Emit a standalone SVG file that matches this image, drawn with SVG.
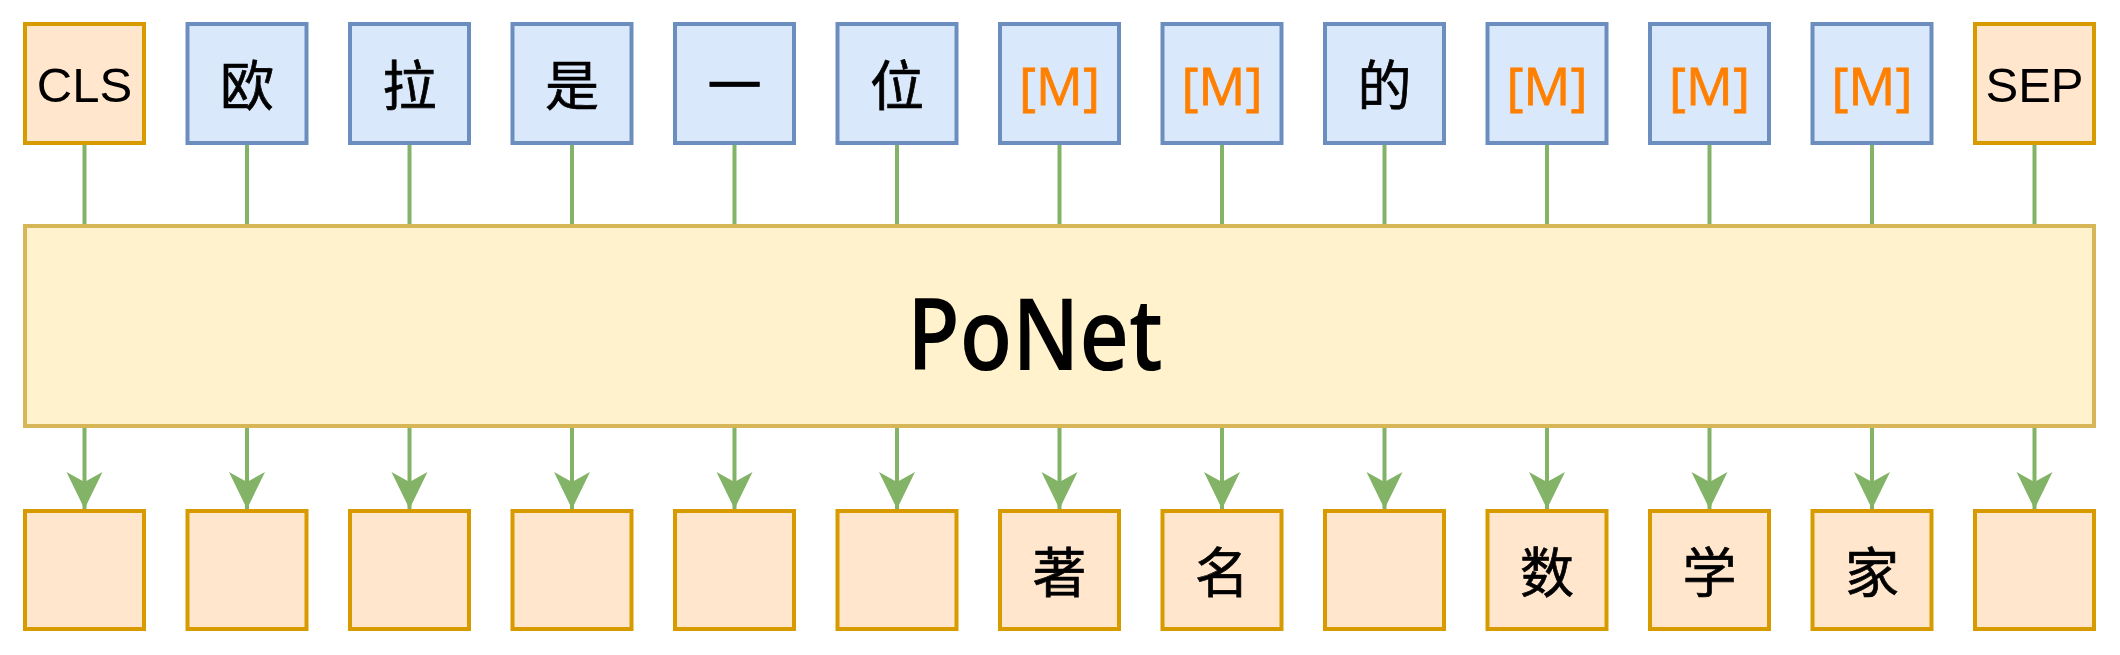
<svg xmlns="http://www.w3.org/2000/svg" width="2120" height="655" viewBox="0 0 2120 655">
<defs>
<style>
.o{fill:#ffe6cc;stroke:#d79b00;stroke-width:4}
.b{fill:#dae8fc;stroke:#6c8ebf;stroke-width:4}
.y{fill:#fff2cc;stroke:#d6b656;stroke-width:4}
.c{stroke:#82b366;stroke-width:4;fill:none}
.lat{font-family:"Liberation Sans",Arial,sans-serif;font-size:49px;fill:#000;text-anchor:middle}
.m{font-family:"Open Sans","Noto Sans",sans-serif;font-size:52px;fill:#ff8000;stroke:#ff8000;stroke-width:0.8;text-anchor:middle}
.zh{font-family:"Noto Sans CJK SC","Noto Sans",sans-serif;font-size:54px;font-weight:400;fill:#000;stroke:#000;stroke-width:0.7;text-anchor:middle}
.big{font-family:"Open Sans","Noto Sans",sans-serif;font-size:100px;font-weight:600;fill:#000;text-anchor:middle}
</style>
<marker id="ar" markerUnits="userSpaceOnUse" markerWidth="40" markerHeight="40" viewBox="-40 -20 40 40" refX="0" refY="0" orient="auto">
<path d="M0,0 L-37,-18 L-27,0 L-37,18 Z" fill="#82b366"/>
</marker>
</defs>
<rect width="2120" height="655" fill="#fff"/>
<g id="connectors">
<path class="c" d="M84.5,145V224M247,145V224M409.5,145V224M572,145V224M734.5,145V224M897,145V224M1059.5,145V224M1222,145V224M1384.5,145V224M1547,145V224M1709.5,145V224M1872,145V224M2034.5,145V224"/>
<path class="c" marker-end="url(#ar)" d="M84.5,428V509"/>
<path class="c" marker-end="url(#ar)" d="M247,428V509"/>
<path class="c" marker-end="url(#ar)" d="M409.5,428V509"/>
<path class="c" marker-end="url(#ar)" d="M572,428V509"/>
<path class="c" marker-end="url(#ar)" d="M734.5,428V509"/>
<path class="c" marker-end="url(#ar)" d="M897,428V509"/>
<path class="c" marker-end="url(#ar)" d="M1059.5,428V509"/>
<path class="c" marker-end="url(#ar)" d="M1222,428V509"/>
<path class="c" marker-end="url(#ar)" d="M1384.5,428V509"/>
<path class="c" marker-end="url(#ar)" d="M1547,428V509"/>
<path class="c" marker-end="url(#ar)" d="M1709.5,428V509"/>
<path class="c" marker-end="url(#ar)" d="M1872,428V509"/>
<path class="c" marker-end="url(#ar)" d="M2034.5,428V509"/>
</g>
<g id="in0"><rect class="o" x="25" y="24" width="119" height="119"/><text class="lat" x="84.5" y="102">CLS</text></g>
<g id="in1"><rect class="b" x="187.5" y="24" width="119" height="119"/><text class="zh" x="247" y="106">欧</text></g>
<g id="in2"><rect class="b" x="350" y="24" width="119" height="119"/><text class="zh" x="409.5" y="106">拉</text></g>
<g id="in3"><rect class="b" x="512.5" y="24" width="119" height="119"/><text class="zh" x="572" y="106">是</text></g>
<g id="in4"><rect class="b" x="675" y="24" width="119" height="119"/><text class="zh" x="734.5" y="106">一</text></g>
<g id="in5"><rect class="b" x="837.5" y="24" width="119" height="119"/><text class="zh" x="897" y="106">位</text></g>
<g id="in6"><rect class="b" x="1000" y="24" width="119" height="119"/><text class="m" x="1059.5" y="105">[M]</text></g>
<g id="in7"><rect class="b" x="1162.5" y="24" width="119" height="119"/><text class="m" x="1222" y="105">[M]</text></g>
<g id="in8"><rect class="b" x="1325" y="24" width="119" height="119"/><text class="zh" x="1384.5" y="106">的</text></g>
<g id="in9"><rect class="b" x="1487.5" y="24" width="119" height="119"/><text class="m" x="1547" y="105">[M]</text></g>
<g id="in10"><rect class="b" x="1650" y="24" width="119" height="119"/><text class="m" x="1709.5" y="105">[M]</text></g>
<g id="in11"><rect class="b" x="1812.5" y="24" width="119" height="119"/><text class="m" x="1872" y="105">[M]</text></g>
<g id="in12"><rect class="o" x="1975" y="24" width="119" height="119"/><text class="lat" x="2034.5" y="102">SEP</text></g>
<g id="ponet"><rect class="y" x="25" y="226" width="2069" height="200"/><text class="big" x="1035" y="370" textLength="256" lengthAdjust="spacingAndGlyphs">PoNet</text></g>
<g id="out0"><rect class="o" x="25" y="511" width="119" height="118"/></g>
<g id="out1"><rect class="o" x="187.5" y="511" width="119" height="118"/></g>
<g id="out2"><rect class="o" x="350" y="511" width="119" height="118"/></g>
<g id="out3"><rect class="o" x="512.5" y="511" width="119" height="118"/></g>
<g id="out4"><rect class="o" x="675" y="511" width="119" height="118"/></g>
<g id="out5"><rect class="o" x="837.5" y="511" width="119" height="118"/></g>
<g id="out6"><rect class="o" x="1000" y="511" width="119" height="118"/><text class="zh" x="1059.5" y="593">著</text></g>
<g id="out7"><rect class="o" x="1162.5" y="511" width="119" height="118"/><text class="zh" x="1222" y="593">名</text></g>
<g id="out8"><rect class="o" x="1325" y="511" width="119" height="118"/></g>
<g id="out9"><rect class="o" x="1487.5" y="511" width="119" height="118"/><text class="zh" x="1547" y="593">数</text></g>
<g id="out10"><rect class="o" x="1650" y="511" width="119" height="118"/><text class="zh" x="1709.5" y="593">学</text></g>
<g id="out11"><rect class="o" x="1812.5" y="511" width="119" height="118"/><text class="zh" x="1872" y="593">家</text></g>
<g id="out12"><rect class="o" x="1975" y="511" width="119" height="118"/></g>
</svg>
